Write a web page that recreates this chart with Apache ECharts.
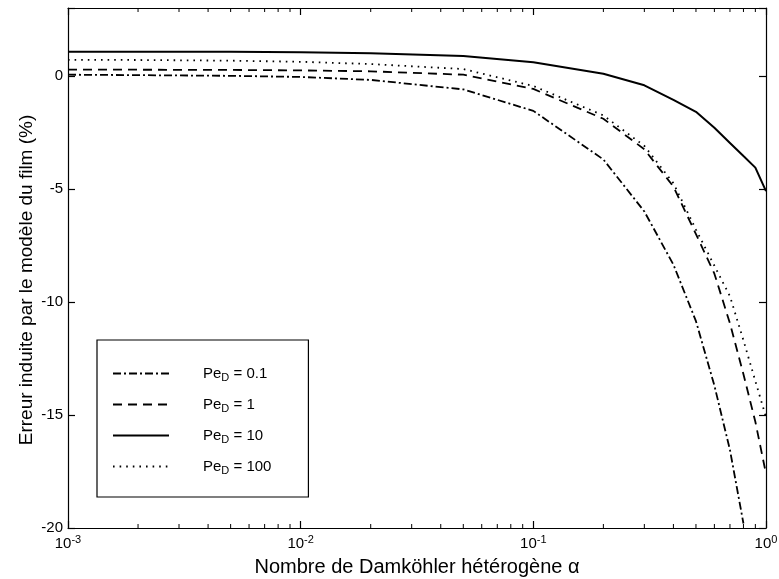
<!DOCTYPE html>
<html>
<head>
<meta charset="utf-8">
<script src="https://cdn.jsdelivr.net/npm/echarts@6/dist/echarts.min.js"></script>
<style>
  html, body { margin: 0; padding: 0; background: #fff; }
  #chart { width: 779px; height: 579px; }
</style>
</head>
<body>
<div id="chart"></div>
<script>
// Heterogeneous Damköhler number (x) and film-model error (%) for each Pe_D
const alpha = [0.001, 0.002, 0.005, 0.01, 0.02, 0.05, 0.1, 0.2, 0.3, 0.4, 0.5, 0.6, 0.7, 0.8, 0.9, 1.0];
const errPe01  = [0.05, 0.03, 0.0, -0.05, -0.18, -0.6, -1.55, -3.7, -6.0, -8.35, -10.85, -13.7, -16.55, -19.8, null, null];
const errPe1   = [0.27, 0.27, 0.26, 0.24, 0.2, 0.05, -0.58, -1.9, -3.25, -4.9, -7.0, -8.75, -10.95, -13.2, -15.3, -17.6];
const errPe10  = [1.07, 1.07, 1.06, 1.04, 1.0, 0.88, 0.6, 0.09, -0.42, -1.06, -1.59, -2.3, -2.97, -3.55, -4.06, -5.1];
const errPe100 = [0.71, 0.70, 0.67, 0.62, 0.52, 0.3, -0.45, -1.75, -3.1, -4.75, -6.8, -8.4, -9.75, -11.7, -13.5, -15.1];
const peLabels = ['0.1', '1', '10', '100'];

const yMin = -20, yMax = 3, yStep = 5;
const xMin = 0.001, xMax = 1;

// minor log ticks (2..9 per decade)
const minorTicks = [];
for (let e = -3; e < 0; e++) {
  for (let k = 2; k <= 9; k++) minorTicks.push(+(k * Math.pow(10, e)).toPrecision(3));
}

const FONT = 'Liberation Sans, Arial, Helvetica, sans-serif';
const names = peLabels.map(p => 'Pe_D = ' + p);
const styles = [
  { type: [8, 3, 2, 3], width: 1.8 },
  { type: [9, 6], width: 1.8 },
  { type: 'solid', width: 2 },
  { type: [1.6, 5], width: 1.8 }
];
const values = [errPe01, errPe1, errPe10, errPe100];

const lineSeries = values.map((vals, i) => ({
  name: names[i],
  type: 'line',
  xAxisIndex: 0, yAxisIndex: 0,
  showSymbol: false,
  symbol: 'none',
  connectNulls: false,
  lineStyle: { color: '#000', width: styles[i].width, type: styles[i].type },
  itemStyle: { color: '#000' },
  data: alpha.map((a, j) => [a, vals[j]])
}));

// short inward minor tick marks on the bottom and top frame edges
const tickSeries = [
  { y: yMin, off: -2 },
  { y: yMax, off: 2 }
].map(t => ({
  type: 'scatter',
  xAxisIndex: 0, yAxisIndex: 0,
  silent: true,
  clip: false,
  z: 5,
  symbol: 'rect',
  symbolSize: [1, 4],
  symbolOffset: [0, t.off],
  itemStyle: { color: '#000', opacity: 1 },
  data: minorTicks.map(v => [v, t.y])
}));

const frameLine = () => ({ color: '#000', width: 1.2 });
const chart = echarts.init(document.getElementById('chart'), null, { renderer: 'canvas' });
chart.setOption({
  animation: false,
  backgroundColor: '#fff',
  grid: { left: 68, right: 13, top: 8, bottom: 51, containLabel: false, outerBoundsMode: 'none' },
  xAxis: [
    {
      type: 'log', logBase: 10, min: xMin, max: xMax, position: 'bottom',
      name: 'Nombre de Damköhler hétérogène α',
      nameLocation: 'middle', nameGap: 29, nameMoveOverlap: false,
      nameTextStyle: { color: '#000', fontSize: 20, fontFamily: FONT },
      axisLine: { onZero: false, lineStyle: frameLine() },
      axisTick: { show: true, inside: true, length: 7, lineStyle: frameLine() },
      splitLine: { show: false },
      minorTick: { show: false },
      axisLabel: {
        color: '#000', fontSize: 15, fontFamily: FONT, margin: 6,
        formatter: v => '10{sup|' + Math.round(Math.log10(v)) + '}',
        rich: {
          sup: { fontSize: 11, fontFamily: FONT, color: '#000', verticalAlign: 'top', padding: [0, 0, 9, 0] }
        }
      }
    },
    {
      type: 'log', logBase: 10, min: xMin, max: xMax, position: 'top',
      axisLine: { onZero: false, lineStyle: frameLine() },
      axisTick: { show: true, inside: true, length: 7, lineStyle: frameLine() },
      axisLabel: { show: false },
      splitLine: { show: false }
    }
  ],
  yAxis: [
    {
      type: 'value', min: yMin, max: yMax, interval: yStep, position: 'left',
      name: 'Erreur induite par le modèle du film (%)',
      nameLocation: 'middle', nameGap: 32, nameMoveOverlap: false,
      nameTextStyle: { color: '#000', fontSize: 19, fontFamily: FONT, padding: [0, 24, 0, 0] },
      axisLine: { show: true, onZero: false, lineStyle: frameLine() },
      axisTick: { show: true, inside: true, length: 7, lineStyle: frameLine() },
      splitLine: { show: false },
      axisLabel: {
        color: '#000', fontSize: 15, fontFamily: FONT, margin: 5,
        formatter: v => (v % yStep === 0 ? String(v) : '')
      }
    },
    {
      type: 'value', min: yMin, max: yMax, interval: yStep, position: 'right',
      axisLine: { show: true, onZero: false, lineStyle: frameLine() },
      axisTick: { show: true, inside: true, length: 7, lineStyle: frameLine() },
      axisLabel: { show: false },
      splitLine: { show: false }
    }
  ],
  legend: {
    data: names,
    orient: 'vertical',
    left: 97, top: 340,
    padding: [26, 37, 21, 15],
    itemWidth: 56, itemHeight: 14, itemGap: 14,
    backgroundColor: '#fff',
    borderColor: '#000', borderWidth: 1.2,
    selectedMode: false,
    itemStyle: { color: 'rgba(0,0,0,0)', borderWidth: 0 },
    formatter: n => 'Pe{sub|D} = ' + n.split('= ')[1],
    textStyle: {
      color: '#000', fontSize: 15, fontFamily: FONT,
      padding: [0, 0, 0, 29],
      rich: {
        sub: { fontSize: 11, fontFamily: FONT, color: '#000', verticalAlign: 'bottom', padding: [8, 0, 0, 0] }
      }
    }
  },
  series: lineSeries.concat(tickSeries)
});
</script>
</body>
</html>
